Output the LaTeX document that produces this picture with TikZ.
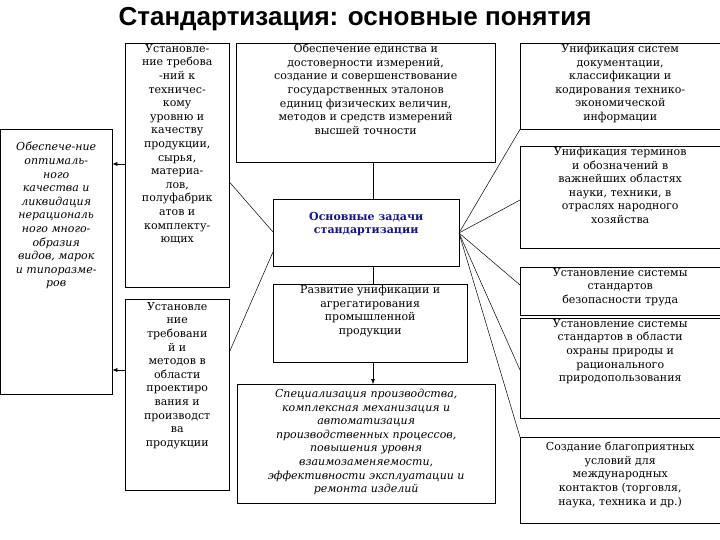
\documentclass[tikz,border=0pt]{standalone}
\usepackage{fontspec}
\usetikzlibrary{arrows.meta}
\setmainfont{DejaVu Serif}
\newfontfamily\titlefont{Liberation Sans}
\newcommand{\bx}[3]{\parbox[c][#2pt][t]{#1pt}{\centering\vspace*{1pt}#3}}
\begin{document}
\begin{tikzpicture}[x=1pt,y=-1pt,
  box/.style={draw,inner sep=0pt,anchor=north west,font=\fontsize{11}{13.6}\selectfont},
  ln/.style={draw,line width=0.5pt},
  arr/.style={draw,line width=0.5pt,-{Latex[length=5pt,width=4pt]}}]
\useasboundingbox (0,0) rectangle (720,540);
\node[font=\titlefont\bfseries\fontsize{26}{28}\selectfont] (title) at (355,19) {Стандартизация: основные понятия};
\node[box] (L) at (0,129) {\bx{112}{265}{\itshape\vspace*{12pt}Обеспече-ние\\оптималь-\\ного\\качества и\\ликвидация\\нерациональ\\ного много-\\образия\\видов, марок\\и типоразме-\\ров}};
\node[box] (A1) at (125,43) {\bx{104}{244}{Установле-\\ние требова\\-ний к\\техничес-\\кому\\уровню и\\качеству\\продукции,\\сырья,\\материа-\\лов,\\полуфабрик\\атов и\\комплекту-\\ющих}};
\node[box] (A2) at (125,299) {\bx{104}{191}{\vspace*{2pt}Установле\\ние\\требовани\\й и\\методов в\\области\\проектиро\\вания и\\производст\\ва\\продукции}};
\node[box] (M1) at (236,43) {\bx{259}{119}{Обеспечение единства и\\достоверности измерений,\\создание и совершенствование\\государственных эталонов\\единиц физических величин,\\методов и средств измерений\\высшей точности}};
\node[box] (C) at (273,199) {\bx{186}{67}{\vspace*{12pt}\color[RGB]{20,20,140}\bfseries Основные задачи\\стандартизации}};
\node[box] (M2) at (273,284) {\bx{194}{78}{Развитие унификации и\\агрегатирования\\промышленной\\продукции}};
\node[box] (M3) at (237,384) {\bx{258}{119}{\vspace*{4pt}\itshape Специализация производства,\\комплексная механизация и\\автоматизация\\производственных процессов,\\повышения уровня\\взаимозаменяемости,\\эффективности эксплуатации и\\ремонта изделий}};
\node[box] (R1) at (520,43) {\bx{200}{86}{Унификация систем\\документации,\\классификации и\\кодирования технико-\\экономической\\информации}};
\node[box] (R2) at (520,146) {\bx{200}{102}{Унификация терминов\\и обозначений в\\важнейших областях\\науки, техники, в\\отраслях народного\\хозяйства}};
\node[box] (R3) at (520,267) {\bx{200}{48}{Установление системы\\стандартов\\безопасности труда}};
\node[box] (R4) at (520,318) {\bx{200}{100}{Установление системы\\стандартов в области\\охраны природы и\\рационального\\природопользования}};
\node[box] (R5) at (520,437) {\bx{200}{86}{\vspace*{4pt}Создание благоприятных\\условий для\\международных\\контактов (торговля,\\наука, техника и др.)}};
\coordinate (cr) at (459,233);
\draw[arr] (A1.west |- 0,164) -- (L.east |- 0,164);
\draw[arr] (A2.west |- 0,370) -- (L.east |- 0,370);
\draw[ln] (M1.south -| 373,0) -- (C.north -| 373,0);
\draw[ln] (C.south -| 373,0) -- (M2.north -| 373,0);
\draw[arr] (M2.south -| 373,0) -- (M3.north -| 373,0);
\draw[ln] (A1.east |- 0,182) -- (C.west |- 0,232);
\draw[ln] (A2.east |- 0,352) -- (C.west |- 0,252);
\draw[ln] (cr) -- (R1.south west);
\draw[ln] (cr) -- (R2.west |- 0,200);
\draw[ln] (cr) -- (R3.west |- 0,285);
\draw[ln] (cr) -- (R4.west |- 0,370);
\draw[ln] (cr) -- (R5.north west);
\end{tikzpicture}
\end{document}
